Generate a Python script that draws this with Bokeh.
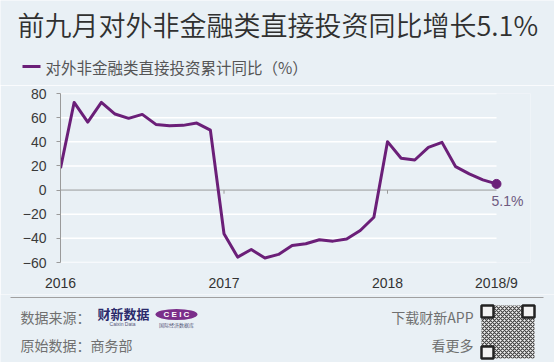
from bokeh.plotting import figure
from bokeh.layouts import column, row
from bokeh.models import Label, FixedTicker, Range1d
from bokeh.embed import file_html
from bokeh.resources import INLINE

# ---------------- data ----------------
months = ["2016/1", "2016/2", "2016/3", "2016/4", "2016/5", "2016/6",
          "2016/7", "2016/8", "2016/9", "2016/10", "2016/11", "2016/12",
          "2017/1", "2017/2", "2017/3", "2017/4", "2017/5", "2017/6",
          "2017/7", "2017/8", "2017/9", "2017/10", "2017/11", "2017/12",
          "2018/1", "2018/2", "2018/3", "2018/4", "2018/5", "2018/6",
          "2018/7", "2018/8", "2018/9"]
values = [18.2, 72.6, 56.3, 72.6, 63.0, 59.4, 62.7, 54.4, 53.3, 53.6, 55.5, 49.7,
          -36.2, -55.5, -49.2, -56.3, -53.3, -45.9, -44.5, -41.2, -42.3, -40.6, -33.5, -22.5,
          40.1, 26.3, 24.9, 35.4, 39.5, 19.4, 13.4, 8.4, 5.1]
x_tick_months = ["2016/1", "2017/1", "2018/1", "2018/9"]
x_tick_labels = ["2016", "2017", "2018", "2018/9"]
y_ticks = [-60, -40, -20, 0, 20, 40, 60, 80]
y_tick_labels = ["\u221260", "\u221240", "\u221220", "0", "20", "40", "60", "80"]
title_text = "前九月对外非金融类直接投资同比增长5.1%"
series_name = "对外非金融类直接投资累计同比（%）"

# ---------------- style ----------------
BG = "#e9f0f5"
PURPLE = "#6b1f78"
CJK = "Noto Sans CJK SC"
CJK_LIGHT = "Noto Sans CJK SC DemiLight, Noto Sans CJK SC"
LAT = "Liberation Sans"
W = 554
HEAD_H, MAIN_H, FOOT_H = 85, 209, 68

x = list(range(len(months)))
x_ticks = [months.index(m) for m in x_tick_months]


def blank(h):
    f = figure(width=W, height=h, output_backend="svg", toolbar_location=None,
               title=None, x_axis_location=None, y_axis_location=None,
               x_range=Range1d(0, W), y_range=Range1d(h, 0),
               min_border=0, background_fill_color=BG, border_fill_color=BG,
               outline_line_color=None)
    f.grid.visible = False
    return f


# ---------------- header ----------------
head = blank(HEAD_H)
head.text(x=[17], y=[24], text=[title_text], text_baseline="middle",
          text_font={"value": CJK_LIGHT}, text_font_size="27px", text_color="#303030")
head.segment(x0=22, y0=66, x1=40, y1=66, line_color=PURPLE, line_width=3)
head.text(x=[45], y=[66], text=[series_name], text_baseline="middle",
          text_font={"value": CJK}, text_font_size="15.5px", text_color="#555555")

# ---------------- main chart ----------------
frame_left, data_right, frame_right = 60, 496, 530
x_end = x[-1] * (frame_right - frame_left) / (data_right - frame_left)

p = figure(width=W, height=MAIN_H, output_backend="svg", toolbar_location=None,
           title=None,
           x_range=Range1d(x[0], x_end), y_range=Range1d(y_ticks[0], y_ticks[-1]),
           min_border_left=frame_left, min_border_right=W - frame_right,
           min_border_top=8, min_border_bottom=32,
           background_fill_color=BG, border_fill_color=BG,
           outline_line_color=None)

xa = p.xaxis[0]
xa.ticker = FixedTicker(ticks=x_ticks)
xa.major_label_overrides = dict(zip(x_ticks, x_tick_labels))
xa.axis_line_color = None
xa.major_tick_line_color = None
xa.minor_tick_line_color = None
xa.major_label_standoff = 6
xa.major_label_text_font = LAT
xa.major_label_text_font_size = "14px"
xa.major_label_text_color = "#333333"

ya = p.yaxis[0]
ya.ticker = FixedTicker(ticks=y_ticks)
ya.major_label_overrides = dict(zip(y_ticks, y_tick_labels))
ya.axis_line_color = "#9a9a9a"
ya.major_tick_line_color = "#9a9a9a"
ya.major_tick_out = 4
ya.major_tick_in = 0
ya.minor_tick_line_color = None
ya.major_label_standoff = 10
ya.major_label_text_font = LAT
ya.major_label_text_font_size = "14px"
ya.major_label_text_color = "#3a3a3a"

p.grid.visible = False
grid_y = [t for t in y_ticks if t != 0]
p.segment(x0=x[0], x1=x[-1], y0=grid_y, y1=grid_y, line_color="white", line_width=1.5)
p.segment(x0=x[0], x1=x[-1], y0=0, y1=0, line_color="#9a9a9a", line_width=1)
p.segment(x0=x_ticks[1:3], y0=0, x1=x_ticks[1:3], y1=-3, line_color="#9a9a9a", line_width=1)

p.line(x, values, line_color=PURPLE, line_width=3, line_join="round")
p.scatter([x[-1]], [values[-1]], size=9, color=PURPLE)

p.add_layout(Label(x=x[-1], y=values[-1], text=f"{values[-1]}%", x_offset=-5, y_offset=-17,
                   text_baseline="middle", text_font=LAT, text_font_size="14px",
                   text_color="#6e5a80"))

# ---------------- footer ----------------
foot = blank(FOOT_H)
foot.segment(x0=10, y0=3, x1=543, y1=3, line_color="#a0a0a0", line_width=1)


def ftext(txt, xx, yy, align="left", size="14px", color="#707070", style="normal", font=CJK):
    foot.text(x=[xx], y=[yy], text=[txt], text_align=align, text_baseline="middle",
              text_font={"value": font}, text_font_size=size, text_color=color,
              text_font_style=style)


ftext("数据来源：", 20, 22)
ftext("原始数据：商务部", 20, 50)
ftext("下载财新APP", 473, 22, align="right")
ftext("看更多", 473, 50, align="right")
ftext("财新数据", 97, 19, size="13px", color="#2b2a6b", style="bold")
ftext("Caixin Data", 122, 29, align="center", size="5px", color="#555577", font=LAT)
foot.ellipse(x=176, y=20, width=42, height=11, fill_color="#7b2e8a", line_color=None)
ftext("C E I C", 176, 20, align="center", size="8px", color="white", style="bold", font=LAT)
ftext("国际经济数据库", 176, 30, align="center", size="5px", color="#555577")

foot.quad(left=481, right=534, top=11, bottom=64, fill_color="#f2f2f2", line_color=None,
          hatch_pattern="x", hatch_color="#444444", hatch_scale=4, hatch_weight=1.2)
foot.quad(left=[481, 522, 481], right=[493, 534, 493], top=[11, 11, 52],
          bottom=[23, 23, 64], fill_color="#f2f2f2", line_color="#222222", line_width=2.5)

layout = column(row(head), row(p), row(foot), spacing=0)
open("out.html", "w").write(file_html(layout, INLINE))
